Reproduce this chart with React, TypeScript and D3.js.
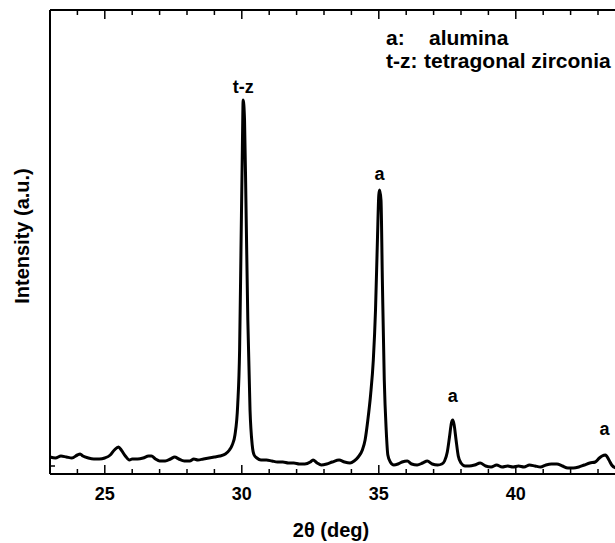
import React from 'react';
import * as d3 from 'd3';

// 2-theta (deg) and intensity (a.u.)
const twoTheta = [
    23.0, 23.2, 23.4, 23.6, 23.8, 24.0, 24.1, 24.2, 24.4, 24.6, 24.8, 25.0, 25.2, 25.35, 25.5, 25.6, 25.75, 25.9,
    26.0, 26.2, 26.4, 26.6, 26.7, 26.85, 27.0, 27.2, 27.4, 27.55, 27.7, 27.9, 28.1, 28.25, 28.4, 28.6, 28.8,
    29.0, 29.2, 29.4, 29.55, 29.65, 29.75, 29.85, 29.92, 29.97, 30.02, 30.05, 30.1, 30.15, 30.22, 30.3, 30.38,
    30.45, 30.55, 30.7, 30.9, 31.1, 31.3, 31.5, 31.7, 31.9, 32.1, 32.3, 32.5, 32.6, 32.75, 32.9, 33.1, 33.3,
    33.55, 33.75, 33.95, 34.1, 34.25, 34.4, 34.5, 34.6, 34.7, 34.8, 34.88, 34.95, 35.0, 35.03, 35.08, 35.13,
    35.2, 35.27, 35.33, 35.42, 35.55, 35.7, 35.85, 36.04, 36.2, 36.4, 36.6, 36.77, 36.95, 37.15, 37.3, 37.4,
    37.5, 37.58, 37.65, 37.7, 37.75, 37.82, 37.9, 38.0, 38.15, 38.3, 38.5, 38.7, 38.9, 39.1, 39.3, 39.5, 39.7,
    39.9, 40.1, 40.3, 40.5, 40.7, 40.9, 41.1, 41.3, 41.5, 41.7, 41.9, 42.1, 42.3, 42.5, 42.7, 42.9, 43.05,
    43.15, 43.27, 43.4, 43.5, 43.65
];
const intensity = [
    17, 16, 18, 17, 16, 19, 20, 18, 16, 15, 15, 16, 19, 24, 27, 24, 18, 14,
    15, 15, 16, 18, 18, 15, 13, 13, 15, 17, 15, 13, 13, 15, 14, 15, 16,
    17, 18, 20, 24, 29, 39, 69, 124, 224, 324, 374, 354, 274, 154, 64, 29,
    19, 16, 14, 14, 13, 12, 12, 11, 11, 10, 10, 12, 14, 11, 9, 10, 12,
    14, 12, 11, 13, 17, 24, 34, 54, 79, 114, 164, 234, 279, 284, 274, 194,
    94, 44, 19, 12, 9, 10, 12, 13, 10, 9, 11, 13, 10, 9, 10, 13,
    22, 37, 51, 54, 49, 34, 18, 11, 8, 8, 9, 11, 8, 7, 9, 7, 8,
    7, 8, 7, 9, 8, 7, 9, 10, 10, 8, 6, 6, 7, 9, 11, 12, 16,
    18, 19, 14, 9, 6
];

const peakNames = ["t-z", "a", "a", "a"];
const peakPos = [30.05, 35.03, 37.7, 43.24];
const peakLabelAt = [381, 294, 72, 39];

const legendKeys = ["a:", "t-z:"];
const legendNames = ["alumina", "tetragonal zirconia"];

const majorTicks = [25, 30, 35, 40];
const minorTicks = d3.range(23, 45);
const yTicks = [8];

const FONT = '"Liberation Sans", Arial, Helvetica, sans-serif';

export default function App() {
    const width = 615;
    const height = 543;
    const margin = { top: 10, left: 50, bottom: 69 };
    const plotBottom = height - margin.bottom;

    const x = d3.scaleLinear().domain([23, 45]).range([margin.left, margin.left + 22 * 27.4]);
    const y = d3.scaleLinear().domain([0, 464]).range([plotBottom, margin.top]);

    const pts: [number, number][] = twoTheta.map((t, i) => [t, intensity[i]]);
    const line = d3.line<[number, number]>()
        .x(d => x(d[0]))
        .y(d => y(d[1]))
        .curve(d3.curveMonotoneX);

    const right = x(45);

    return (
        <svg width={width} height={height} style={{ position: 'absolute', left: 0, top: 0, background: '#fff' }}
            fontFamily={FONT} fontWeight="bold">
            {/* frame */}
            <line x1={margin.left} x2={right} y1={plotBottom} y2={plotBottom} stroke="#000" strokeWidth={2} />
            <line x1={margin.left} x2={right} y1={margin.top} y2={margin.top} stroke="#000" strokeWidth={2} />
            <line x1={margin.left} x2={margin.left} y1={margin.top} y2={plotBottom} stroke="#000" strokeWidth={2} />

            {minorTicks.map(t => {
                const len = majorTicks.includes(t) ? 9 : 5;
                return (
                    <g key={t}>
                        <line x1={x(t)} x2={x(t)} y1={plotBottom} y2={plotBottom - len} stroke="#000" strokeWidth={1.5} />
                        <line x1={x(t)} x2={x(t)} y1={margin.top} y2={margin.top + len} stroke="#000" strokeWidth={1.5} />
                    </g>
                );
            })}
            {yTicks.map(v => (
                <line key={v} x1={margin.left} x2={margin.left + 5} y1={y(v)} y2={y(v)} stroke="#000" strokeWidth={1.5} />
            ))}
            {majorTicks.map(t => (
                <text key={t} x={x(t)} y={plotBottom + 26} textAnchor="middle" fontSize={18}>{t}</text>
            ))}

            <path d={line(pts) || ''} fill="none" stroke="#000" strokeWidth={3} strokeLinejoin="round" />

            {peakNames.map((n, i) => (
                <text key={i} x={x(peakPos[i])} y={y(peakLabelAt[i])} textAnchor="middle" fontSize={18}>{n}</text>
            ))}

            {legendKeys.map((k, i) => (
                <g key={k} fontSize={21}>
                    <text x={386} y={45 + i * 23}>{k}</text>
                    <text x={i === 0 ? 429 : 424} y={45 + i * 23}>{legendNames[i]}</text>
                </g>
            ))}

            <text x={331} y={537} textAnchor="middle" fontSize={20}>2θ (deg)</text>
            <text transform="translate(29,236) rotate(-90)" textAnchor="middle" fontSize={20}>Intensity (a.u.)</text>
        </svg>
    );
}
